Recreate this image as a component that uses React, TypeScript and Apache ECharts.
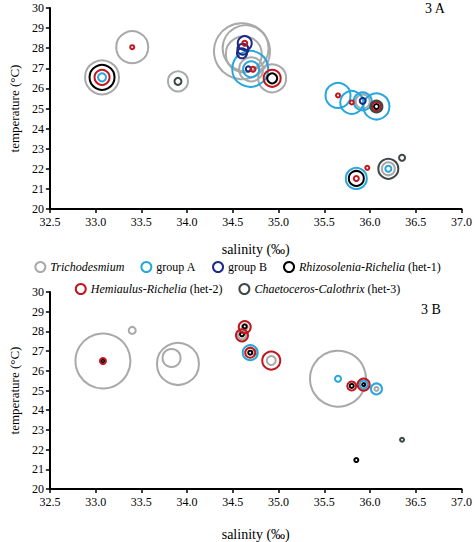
import React, { useEffect, useRef } from "react";
import * as echarts from "echarts";

const FONT = "'Liberation Serif', 'Times New Roman', serif";

const seriesNames = [
  "Trichodesmium",
  "group A",
  "group B",
  "Rhizosolenia-Richelia",
  "Hemiaulus-Richelia",
  "Chaetoceros-Calothrix",
];
const seriesColors = ["#a9a9a9", "#27a7de", "#1c2a83", "#000000", "#c1161d", "#3d4747"];
const legendSuffix = ["", "", "", " (het-1)", " (het-2)", " (het-3)"];
const legendItalic = [true, false, false, true, true, true];

const xTicks = { min: 32.5, max: 37.0, interval: 0.5 };
const yTicks = { min: 20, max: 30, interval: 1 };

// [salinity, temperature, circle diameter]
const trichoA = [
  [33.07, 26.55, 34],
  [33.4, 28.05, 32],
  [33.9, 26.35, 20],
  [34.6, 27.85, 56],
  [34.64, 28.0, 46],
  [34.62, 27.7, 36],
  [34.7, 26.95, 24],
  [34.93, 26.5, 28],
  [35.92, 25.35, 14],
  [36.2, 22.0, 13],
];
const groupAA = [
  [33.07, 26.55, 8],
  [34.69, 26.97, 36],
  [34.7, 26.95, 16],
  [35.65, 25.65, 25],
  [35.8, 25.3, 23],
  [35.92, 25.35, 18],
  [36.07, 25.1, 26],
  [35.85, 21.52, 21],
  [36.2, 22.0, 6],
];
const groupBA = [
  [34.63, 28.25, 14],
  [34.61, 27.95, 11],
  [34.6, 27.75, 10],
  [34.67, 26.97, 5],
  [35.92, 25.38, 6],
];
const het1A = [
  [33.07, 26.55, 25],
  [34.93, 26.5, 10],
  [36.07, 25.1, 5],
  [35.85, 21.52, 15],
];
const het2A = [
  [33.07, 26.55, 15],
  [33.4, 28.05, 4],
  [34.63, 28.25, 5],
  [34.72, 26.95, 5],
  [34.93, 26.5, 17],
  [35.65, 25.65, 4],
  [35.8, 25.3, 4],
  [36.07, 25.1, 9],
  [35.85, 21.52, 5],
  [35.97, 22.05, 4],
];
const het3A = [
  [33.9, 26.35, 7],
  [36.07, 25.1, 12],
  [36.2, 22.0, 20],
  [36.35, 22.55, 6],
];

const trichoB = [
  [33.08, 26.5, 55],
  [33.4, 28.05, 7],
  [33.9, 26.35, 42],
  [33.83, 26.65, 18],
  [34.63, 28.22, 6],
  [34.6, 27.8, 8],
  [34.74, 26.93, 5],
  [34.92, 26.52, 9],
  [35.65, 25.6, 56],
  [36.07, 25.08, 4],
];
const groupAB = [
  [34.69, 26.92, 15],
  [35.65, 25.6, 6],
  [35.93, 25.3, 8],
  [36.07, 25.08, 11],
];
const groupBB: number[][] = [];
const het1B = [
  [33.08, 26.5, 3],
  [34.63, 28.25, 4],
  [34.6, 27.85, 4],
  [34.69, 26.92, 4],
  [35.8, 25.23, 4],
  [35.93, 25.3, 3],
  [35.85, 21.47, 4],
];
const het2B = [
  [33.08, 26.5, 6],
  [34.63, 28.22, 12],
  [34.6, 27.8, 12],
  [34.69, 26.92, 10],
  [34.92, 26.52, 18],
  [35.8, 25.23, 9],
  [35.93, 25.3, 12],
];
const het3B = [[36.35, 22.5, 4]];

const panelA = [trichoA, groupAA, groupBA, het1A, het2A, het3A];
const panelB = [trichoB, groupAB, groupBB, het1B, het2B, het3B];

function makeX(gridIndex: number) {
  return {
    type: "value",
    gridIndex,
    min: xTicks.min,
    max: xTicks.max,
    interval: xTicks.interval,
    name: "salinity (‰)",
    nameLocation: "middle",
    nameGap: 33,
    nameTextStyle: { fontFamily: FONT, fontSize: 14, color: "#000" },
    axisLine: { show: true, onZero: false, lineStyle: { color: "#000", width: 2 } },
    axisTick: { show: true, length: 4, lineStyle: { color: "#000", width: 1.5 } },
    axisLabel: {
      fontFamily: FONT,
      fontSize: 12,
      color: "#000",
      margin: 7,
      formatter: (v: number) => v.toFixed(1),
    },
    splitLine: { show: false },
  };
}

function makeY(gridIndex: number) {
  return {
    type: "value",
    gridIndex,
    min: yTicks.min,
    max: yTicks.max,
    interval: yTicks.interval,
    name: "temperature (°C)",
    nameLocation: "middle",
    nameRotate: 90,
    nameGap: 23,
    nameTextStyle: { fontFamily: FONT, fontSize: 13, color: "#000" },
    axisLine: { show: true, onZero: false, lineStyle: { color: "#000", width: 2 } },
    axisTick: { show: true, length: 4, lineStyle: { color: "#000", width: 1.5 } },
    axisLabel: { fontFamily: FONT, fontSize: 12, color: "#000", margin: 6 },
    splitLine: { show: false },
  };
}

function makeSeries(panel: number[][][], idx: number) {
  return panel.map((data, i) => ({
    name: seriesNames[i],
    type: "scatter",
    xAxisIndex: idx,
    yAxisIndex: idx,
    symbol: "circle",
    symbolSize: (v: number[]) => v[2],
    itemStyle: {
      color: "rgba(0,0,0,0)",
      borderColor: seriesColors[i],
      borderWidth: 2,
      opacity: 1,
    },
    emphasis: { disabled: true },
    z: 2 + i,
    data,
  }));
}

function legendItem(i: number) {
  return {
    name: seriesNames[i],
    icon: "circle",
    itemStyle: { color: "#fff", borderColor: seriesColors[i], borderWidth: 2 },
  };
}

const legendRich = {
  i: { fontStyle: "italic", fontFamily: FONT, fontSize: 12, color: "#000" },
  n: { fontFamily: FONT, fontSize: 12, color: "#000" },
};

function legendFormatter(name: string) {
  const i = seriesNames.indexOf(name);
  if (legendItalic[i]) return `{i|${name}}{n|${legendSuffix[i]}}`;
  return `{n|${name}}`;
}

export default function App() {
  const ref = useRef<HTMLDivElement>(null);
  useEffect(() => {
    if (!ref.current) return;
    const chart = echarts.init(ref.current, undefined, { renderer: "svg" });
    chart.setOption({
      animation: false,
      backgroundColor: "#fff",
      grid: [
        { left: 42, top: 8, width: 423, height: 201 },
        { left: 44, top: 292, width: 420, height: 197 },
      ],
      xAxis: [makeX(0), { ...makeX(1), nameGap: 38 }],
      yAxis: [makeY(0), makeY(1)],
      legend: [
        {
          top: 256,
          left: "center",
          itemWidth: 10,
          itemHeight: 10,
          itemGap: 16,
          selectedMode: false,
          data: [0, 1, 2, 3].map(legendItem),
          formatter: legendFormatter,
          textStyle: { fontFamily: FONT, fontSize: 12, color: "#000", rich: legendRich },
        },
        {
          top: 278,
          left: "center",
          itemWidth: 10,
          itemHeight: 10,
          itemGap: 16,
          selectedMode: false,
          data: [4, 5].map(legendItem),
          formatter: legendFormatter,
          textStyle: { fontFamily: FONT, fontSize: 12, color: "#000", rich: legendRich },
        },
      ],
      graphic: [
        {
          type: "text",
          left: 425,
          top: 1,
          style: { text: "3 A", fontFamily: FONT, fontSize: 14, fill: "#000" },
        },
        {
          type: "text",
          left: 421,
          top: 302,
          style: { text: "3 B", fontFamily: FONT, fontSize: 14, fill: "#000" },
        },
      ],
      series: [...makeSeries(panelA, 0), ...makeSeries(panelB, 1)],
    });
    return () => chart.dispose();
  }, []);
  return (
    <div
      ref={ref}
      style={{ position: "absolute", left: 0, top: 0, width: 475, height: 542 }}
    />
  );
}
